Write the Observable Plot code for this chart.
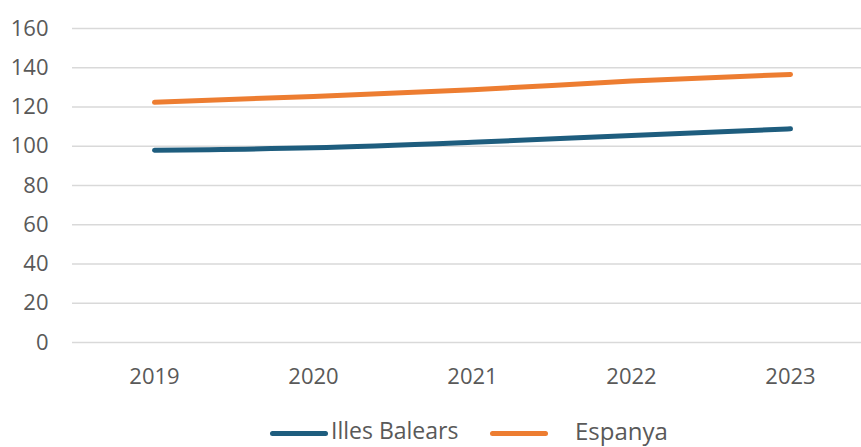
<!DOCTYPE html>
<html>
<head>
<meta charset="utf-8">
<script src="https://cdn.jsdelivr.net/npm/d3@7"></script>
<script src="https://cdn.jsdelivr.net/npm/@observablehq/plot@0.6"></script>
<style>
  html, body { margin: 0; padding: 0; background: #fff; }
  #chart { width: 861px; }
  .legend { position: relative; width: 861px; height: 47px; font-family: "Open Sans", sans-serif; color: #595959; }
  .legend .sw { position: absolute; height: 5px; border-radius: 3px; top: 31px; }
  .legend .lb { position: absolute; top: 19px; line-height: 1; white-space: nowrap; }
</style>
</head>
<body>
<div id="chart"></div>
<script>
const years = ["2019", "2020", "2021", "2022", "2023"];
const illesBalears = [98.0, 99.2, 102.0, 105.5, 108.9];
const espanya = [122.4, 125.4, 128.8, 133.2, 136.6];
const seriesNames = ["Illes Balears", "Espanya"];
const seriesColors = ["#1e5d7e", "#ed7d31"];
const yTicks = [0, 20, 40, 60, 80, 100, 120, 140, 160];

const data = [];
years.forEach((y, i) => {
  data.push({year: y, value: illesBalears[i], series: seriesNames[0]});
  data.push({year: y, value: espanya[i], series: seriesNames[1]});
});

const plot = Plot.plot({
  width: 861,
  height: 400,
  marginLeft: 72,
  marginRight: 0,
  marginTop: 28,
  marginBottom: 58,
  style: {fontFamily: "'Open Sans', sans-serif", fontSize: "22px", color: "#595959", background: "#fff"},
  x: {type: "point", domain: years, range: [153.5, 790.5], padding: 0},
  y: {domain: [0, 160]},
  color: {domain: seriesNames, range: seriesColors},
  marks: [
    Plot.gridY(yTicks, {stroke: "#d9d9d9", strokeOpacity: 1, strokeWidth: 1.5}),
    Plot.axisY(yTicks, {tickSize: 0, tickPadding: 24, fontSize: 22, fill: "#595959", label: null}),
    Plot.axisX({tickSize: 0, tickPadding: 26, fontSize: 22, fill: "#595959", label: null}),
    Plot.line(data, {x: "year", y: "value", z: "series", stroke: "series", strokeWidth: 5, curve: "monotone-x", strokeLinecap: "round"})
  ]
});
document.getElementById("chart").appendChild(plot);

const legend = document.createElement("div");
legend.className = "legend";
const items = [
  {name: seriesNames[0], color: seriesColors[0], swLeft: 270, swWidth: 58, lbLeft: 331, size: 23},
  {name: seriesNames[1], color: seriesColors[1], swLeft: 490, swWidth: 58, lbLeft: 575, size: 24}
];
items.forEach(it => {
  const sw = document.createElement("div");
  sw.className = "sw";
  sw.style.left = it.swLeft + "px";
  sw.style.width = it.swWidth + "px";
  sw.style.background = it.color;
  legend.appendChild(sw);
  const lb = document.createElement("div");
  lb.className = "lb";
  lb.style.left = it.lbLeft + "px";
  lb.style.fontSize = it.size + "px";
  lb.textContent = it.name;
  legend.appendChild(lb);
});
document.getElementById("chart").appendChild(legend);
</script>
</body>
</html>
